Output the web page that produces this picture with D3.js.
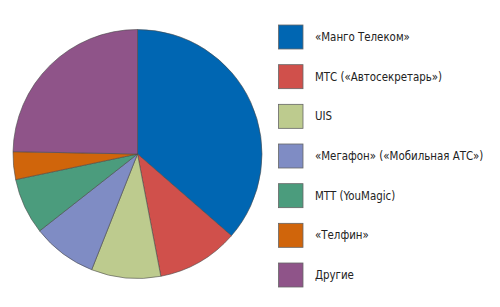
<!DOCTYPE html>
<html>
<head>
<meta charset="utf-8">
<script src="https://cdn.jsdelivr.net/npm/d3@7"></script>
<style>
  html, body { margin: 0; padding: 0; background: #fff; }
  svg { display: block; }
</style>
</head>
<body>
<svg id="chart" width="500" height="307"></svg>
<script>
// shares, percent (clockwise from 12 o'clock)
const names = [
    "«Манго Телеком»",
    "МТС («Автосекретарь»)",
    "UIS",
    "«Мегафон» («Мобильная АТС»)",
    "МТТ (YouMagic)",
    "«Телфин»",
    "Другие"
];
const shares = [36.4, 10.6, 9.0, 8.4, 7.3, 3.6, 24.7];
const colors = ["#0066b2", "#d0504b", "#bdcb8e", "#7f8cc4", "#4b9c7d", "#d0650b", "#8f5489"];

const width = 500, height = 307;
const cx = 137.5, cy = 154, radius = 124.5;

const svg = d3.select("#chart");

const slices = shares.map((v, i) => ({ name: names[i], value: v, color: colors[i] }));

const pie = d3.pie()
    .sort(null)
    .value(d => d.value);

const arc = d3.arc()
    .innerRadius(0)
    .outerRadius(radius);

svg.append("g")
    .attr("transform", `translate(${cx},${cy})`)
    .selectAll("path")
    .data(pie(slices))
    .join("path")
    .attr("d", arc)
    .attr("fill", d => d.data.color)
    .attr("stroke", "#4a4a4a")
    .attr("stroke-width", 0.6);

// legend
const legendY = d3.scalePoint()
    .domain(names)
    .range([37, 275]);

const legend = svg.append("g")
    .selectAll("g")
    .data(slices)
    .join("g")
    .attr("transform", d => `translate(278,${legendY(d.name)})`);

legend.append("rect")
    .attr("x", 0.5)
    .attr("y", -12)
    .attr("width", 24.5)
    .attr("height", 24)
    .attr("fill", d => d.color)
    .attr("stroke", "#666")
    .attr("stroke-width", 0.8);

legend.append("text")
    .attr("x", 37)
    .attr("y", 0)
    .attr("dy", "0.35em")
    .attr("font-family", "'DejaVu Sans Condensed', sans-serif")
    .attr("font-size", 11.4)
    .attr("fill", "#222")
    .text(d => d.name);
</script>
</body>
</html>
